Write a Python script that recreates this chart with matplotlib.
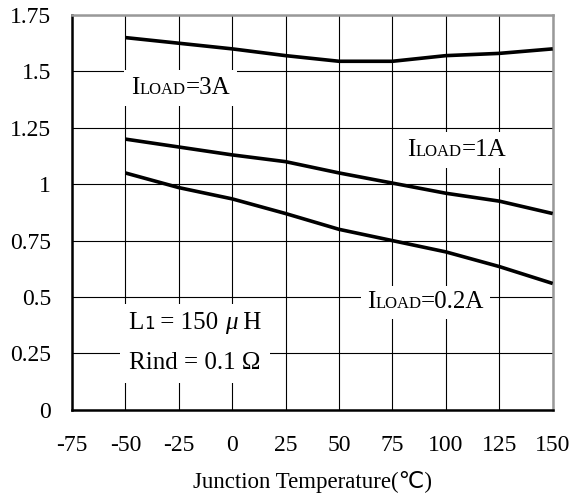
import numpy as np
import matplotlib.pyplot as plt
from matplotlib.offsetbox import TextArea, HPacker, VPacker, AnnotationBbox

plt.rcParams['font.family'] = ['Liberation Serif', 'DejaVu Sans']
plt.rcParams['axes.unicode_minus'] = False

temp = [-50, -25, 0, 25, 50, 75, 100, 125, 150]
i_3a = [1.65, 1.625, 1.60, 1.57, 1.545, 1.545, 1.57, 1.58, 1.60]
i_1a = [1.20, 1.165, 1.13, 1.10, 1.05, 1.005, 0.96, 0.925, 0.87]
i_02a = [1.05, 0.985, 0.935, 0.87, 0.80, 0.75, 0.70, 0.635, 0.56]

xticks = [-75, -50, -25, 0, 25, 50, 75, 100, 125, 150]
yticks = [0, 0.25, 0.5, 0.75, 1, 1.25, 1.5, 1.75]
ytick_labels = ['0', '0.25', '0.5', '0.75', '1', '1.25', '1.5', '1.75']

fig = plt.figure(figsize=(5.71, 5.01), dpi=100)
ax = fig.add_axes([0.126, 0.182, 0.842, 0.788])

ax.set_xlim(-75, 150)
ax.set_ylim(0, 1.75)
ax.set_xticks(xticks)
ax.set_yticks(yticks)
ax.set_yticklabels(ytick_labels)
ax.tick_params(length=0, labelsize=17)
ax.tick_params(axis='x', pad=18)
ax.tick_params(axis='y', pad=15)
ax.grid(True, color='black', linewidth=0.8, zorder=1)
ax.set_axisbelow(True)

for side in ['left', 'bottom']:
    ax.spines[side].set_linewidth(1.8)
    ax.spines[side].set_color('black')
for side in ['top', 'right']:
    ax.spines[side].set_linewidth(1.8)
    ax.spines[side].set_color('#999999')

for ys in [i_3a, i_1a, i_02a]:
    ax.plot(temp, ys, color='black', linewidth=2.6, zorder=4, solid_capstyle='butt')

ax.set_xlabel('Junction Temperature(℃)', fontsize=16.5, labelpad=11)


def iload(txt):
    parts = [TextArea('I', textprops=dict(size=18)),
             TextArea('LOAD', textprops=dict(size=12)),
             TextArea(txt, textprops=dict(size=18))]
    return HPacker(children=parts, align='baseline', pad=0, sep=0)


def put(box, xy, pad, align=(0.5, 0.5)):
    ab = AnnotationBbox(box, xy, xycoords='data', frameon=True, pad=pad,
                        box_alignment=align,
                        bboxprops=dict(fc='white', ec='none'), zorder=3)
    ax.add_artist(ab)


put(iload('=3A'), (-24, 1.425), 0.5)
put(iload('=1A'), (105, 1.15), 0.5)
put(iload('=0.2A'), (90.5, 0.476), 0.4)

line1 = HPacker(children=[TextArea('L', textprops=dict(size=18)),
                          TextArea('1', textprops=dict(size=12, family='DejaVu Sans')),
                          TextArea(' = 150 ', textprops=dict(size=18)),
                          TextArea('μ', textprops=dict(size=18, style='italic')),
                          TextArea(' H', textprops=dict(size=18))],
                align='baseline', pad=0, sep=0)
line2 = TextArea('Rind = 0.1 Ω', textprops=dict(size=18))
put(VPacker(children=[line1, line2], align='left', pad=0, sep=13),
    (-48.5, 0.295), 0.6, align=(0, 0.5))

plt.savefig('out.png', dpi=100)
